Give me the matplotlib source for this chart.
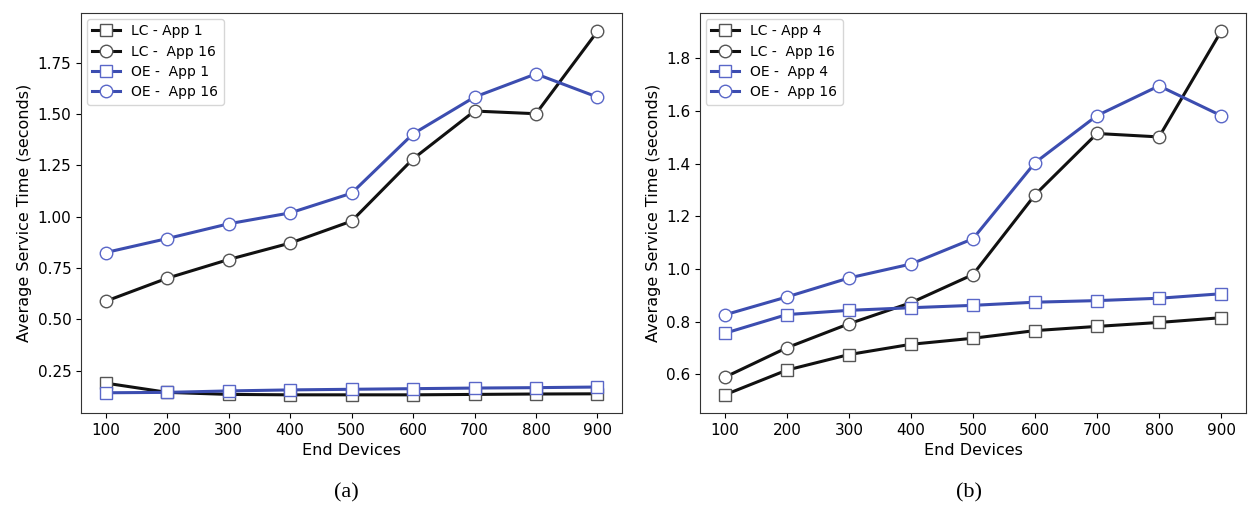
import numpy as np
import matplotlib
matplotlib.use('Agg')
import matplotlib.pyplot as plt

devices = [100, 200, 300, 400, 500, 600, 700, 800, 900]

# (a)
lc_app1 = [0.19, 0.145, 0.135, 0.133, 0.133, 0.133, 0.135, 0.137, 0.138]
oe_app1 = [0.143, 0.145, 0.152, 0.157, 0.160, 0.163, 0.166, 0.168, 0.171]
lc_app16 = [0.589, 0.701, 0.792, 0.872, 0.979, 1.282, 1.515, 1.502, 1.903]
oe_app16 = [0.826, 0.894, 0.966, 1.019, 1.115, 1.404, 1.583, 1.696, 1.583]

# (b)
lc_app4 = [0.522, 0.616, 0.675, 0.714, 0.737, 0.766, 0.782, 0.797, 0.815]
oe_app4 = [0.756, 0.827, 0.843, 0.853, 0.862, 0.874, 0.880, 0.889, 0.906]

blue = '#3c4db0'
black = '#111111'

fig = plt.figure(figsize=(12.49, 5.08), dpi=100)
ax1 = fig.add_axes([0.065, 0.187, 0.433, 0.787])
ax2 = fig.add_axes([0.5605, 0.187, 0.437, 0.787])


def draw(ax, app_lc, app_oe, app_name):
    kw = dict(linewidth=2.2, markersize=9, markerfacecolor='white', markeredgewidth=1.0)
    ax.plot(devices, app_lc, color=black, marker='s', markeredgecolor='#555555',
            label='LC - App ' + app_name, **kw)
    ax.plot(devices, lc_app16, color=black, marker='o', markeredgecolor='#555555',
            label='LC -  App 16', **kw)
    ax.plot(devices, app_oe, color=blue, marker='s', markeredgecolor='#5a67c8',
            label='OE -  App ' + app_name, **kw)
    ax.plot(devices, oe_app16, color=blue, marker='o', markeredgecolor='#5a67c8',
            label='OE -  App 16', **kw)
    ax.set_xticks(devices)
    ax.set_xlabel('End Devices', fontsize=11.5)
    ax.set_ylabel('Average Service Time (seconds)', fontsize=11.5)
    ax.tick_params(labelsize=11)
    ax.legend(loc='upper left', fontsize=10, handlelength=2.0, borderaxespad=0.4,
              labelspacing=0.45)
    for s in ax.spines.values():
        s.set_color('#333333')


draw(ax1, lc_app1, oe_app1, '1')
draw(ax2, lc_app4, oe_app4, '4')

fig.text(0.277, 0.03, '(a)', ha='center', va='center', fontsize=16, family='Liberation Serif')
fig.text(0.776, 0.03, '(b)', ha='center', va='center', fontsize=16, family='Liberation Serif')

fig.savefig('out.png', dpi=100)
